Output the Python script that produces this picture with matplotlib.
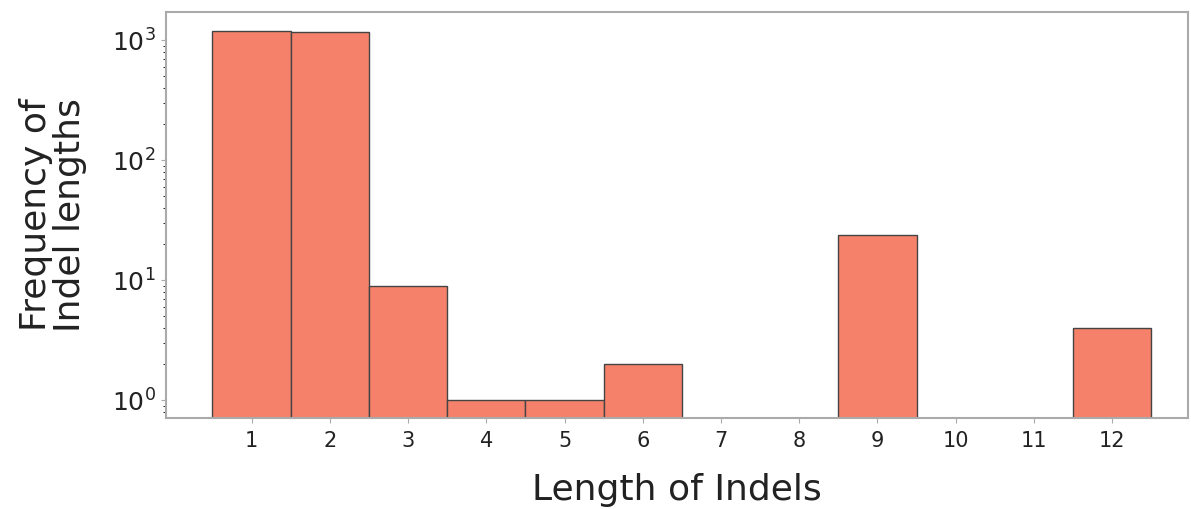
import matplotlib
matplotlib.use("Agg")
import matplotlib.pyplot as plt

# indel length histogram counts
lengths = [1, 2, 3, 4, 5, 6, 7, 8, 9, 10, 11, 12]
counts = [1190, 1165, 9, 1, 1, 2, 0, 0, 24, 0, 0, 4]

fig = plt.figure(figsize=(11.91, 5.09), dpi=100)
ax = fig.add_axes([0.139, 0.179, 0.8585, 0.797])

ax.bar(lengths, counts, width=1.0, color="#f5816a", edgecolor="#444444", linewidth=1.0)
ax.set_yscale("log")
ax.set_ylim(0.71, 1712)
ax.set_xlim(-0.1, 12.97)
ax.set_xticks(lengths)
ax.set_xticklabels([str(v) for v in lengths])

for sp in ax.spines.values():
    sp.set_color("#aaaaaa")
    sp.set_linewidth(1.5)
ax.tick_params(axis="both", colors="#aaaaaa", labelcolor="#222222")
ax.tick_params(axis="x", labelsize=15, pad=6)
ax.tick_params(axis="y", labelsize=18)

ax.set_xlabel("Length of Indels", fontsize=26, color="#222222", labelpad=16)
ax.set_ylabel("Frequency of\nIndel lengths", fontsize=26, color="#222222",
              linespacing=1.0, labelpad=18)

fig.savefig("out.png", dpi=100)
